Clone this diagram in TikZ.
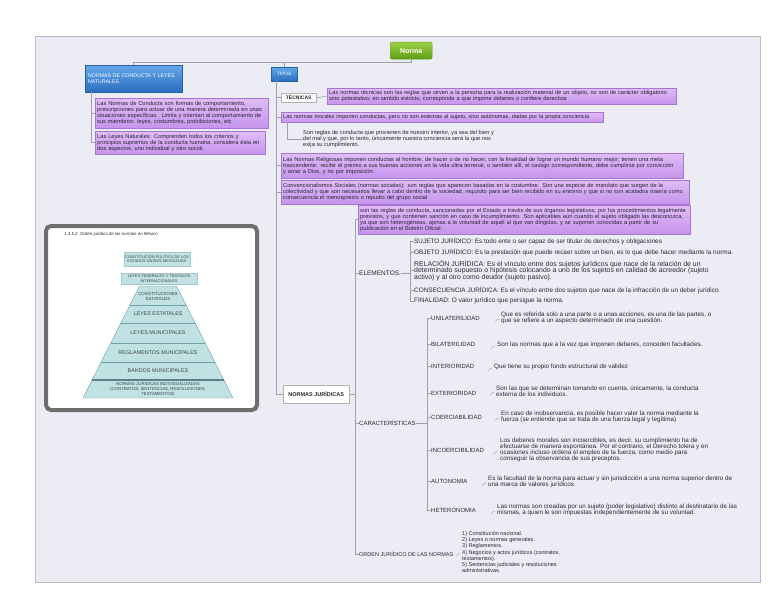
\documentclass[tikz,border=0pt]{standalone}
\usepackage{fontspec}
\setmainfont{Liberation Sans}
\usetikzlibrary{positioning, calc}
\definecolor{lienzo}{RGB}{236,237,244}
\definecolor{lienzoborde}{RGB}{185,186,196}
\definecolor{enlace}{RGB}{160,160,172}
\definecolor{lilaarriba}{RGB}{224,188,248}
\definecolor{lilaabajo}{RGB}{198,148,236}
\definecolor{lilaborde}{RGB}{168,118,210}
\definecolor{azularriba}{RGB}{100,168,232}
\definecolor{azulabajo}{RGB}{42,110,192}
\definecolor{azulborde}{RGB}{40,96,168}
\definecolor{verdearriba}{RGB}{158,208,72}
\definecolor{verdeabajo}{RGB}{94,158,20}
\definecolor{textoscuro}{RGB}{40,40,50}
\definecolor{pirafondo}{RGB}{192,226,226}
\definecolor{piralinea}{RGB}{112,160,166}
\definecolor{piratexto}{RGB}{60,70,80}
\definecolor{marco}{RGB}{110,110,112}

\newcommand{\fpeq}{\fontsize{5.7}{6}\selectfont}
\newcommand{\fdesc}{\fontsize{6.3}{6.2}\selectfont}
\newcommand{\fcar}{\fontsize{6}{6}\selectfont}

\begin{document}
\begin{tikzpicture}[x=1pt, y=-1pt,
  linea/.style={draw=enlace, line width=0.6pt},
  lila/.style={draw=lilaborde, top color=lilaarriba, bottom color=lilaabajo, line width=0.4pt,
    anchor=north west, align=left, inner xsep=2pt, inner ysep=1pt, font=\fpeq, text=textoscuro},
  azul/.style={draw=azulborde, top color=azularriba, bottom color=azulabajo, line width=0.4pt,
    anchor=north west, align=left, inner xsep=3pt, inner ysep=1pt, text=white},
  raiz/.style={draw=verdeabajo, top color=verdearriba, bottom color=verdeabajo, rounded corners=2pt,
    anchor=north west, text=white, font=\fontsize{7}{8}\selectfont\bfseries},
  blanca/.style={draw=gray!60, fill=white, anchor=north west, text=textoscuro,
    font=\fontsize{5}{6}\selectfont\bfseries},
  texto/.style={anchor=west, align=left, inner sep=0pt, text=textoscuro},
  nombre/.style={texto, font=\fcar},
  desc/.style={texto, font=\fdesc},
  nivel/.style={align=center, inner sep=0pt, text=piratexto},
  cajanivel/.style={nivel, fill=pirafondo, draw=piralinea!60, line width=0.3pt,
    font=\fontsize{3.9}{4.4}\selectfont},
]
\useasboundingbox (0,0) rectangle (768,594);
\fill[lienzo] (35,36) rectangle (760,582);
\draw[lienzoborde, line width=0.6pt] (35,36) rectangle (760,582);

% raiz y ramas principales
\node[raiz, minimum width=42pt, minimum height=17pt] (norma) at (390,42) {Norma};
\node[azul, text width=91pt, minimum height=27pt, font=\fontsize{5.2}{6.4}\selectfont] (leyes) at (85,65)
  {NORMAS DE CONDUCTA Y LEYES\\NATURALES};
\node[azul, minimum width=26pt, minimum height=14pt, inner xsep=1pt, font=\fontsize{4.8}{5}\selectfont] (tipos) at (271,67) {TIPOS};
\draw[linea] (norma.south) -- ++(0,3) -| (leyes.north);
\draw[linea] (norma.south) -- ++(0,3) -| (tipos.north);

% normas de conducta y leyes naturales
\node[lila, text width=169pt, minimum height=30pt] (ncond) at (95,98)
  {Las Normas de Conducta son formas de comportamiento,\\
   prescripciones para actuar de una manera determinada en unas\\
   situaciones específicas.\ \ Limita y orientan al comportamiento de\\
   sus miembros: leyes, costumbres, prohibiciones, etc};
\node[lila, text width=166pt, minimum height=23pt] (nnat) at (95,131)
  {Las Leyes Naturales: Comprenden todos los criterios y\\
   principios supremos de la conducta humana, considera ésta en\\
   dos aspectos, uno individual y otro social.};
\draw[linea] ($(leyes.south west)+(6,0)$) |- (ncond.west);
\draw[linea] ($(leyes.south west)+(6,0)$) |- (nnat.west);

% tipos
\node[blanca, minimum width=35pt, minimum height=9pt, inner sep=1pt] (tecnicas) at (281,93) {TÉCNICAS};
\node[lila, text width=345pt, minimum height=16pt] (tecdesc) at (327,88)
  {Las normas técnicas son las reglas que sirven a la persona para la realización material de un objeto, no son de carácter obligatorio\\
   sino potestativo; en sentido estricto, corresponde a que impone deberes o confiere derechos};
\node[lila, text width=318pt, minimum height=10pt, font=\fontsize{5.6}{6}\selectfont] (morales) at (281,112)
  {Las normas morales imponen conductas, pero no son externas al sujeto, sino autónomas, dadas por la propia conciencia};
\node[texto, font=\fontsize{5.7}{6.3}\selectfont] (moralsub) at (303,139)
  {Son reglas de conducta que provienen de nuestro interior, ya sea del bien y\\
   del mal y que, por lo tanto, únicamente nuestra conciencia será la que nos\\
   exija su cumplimiento.};
\node[lila, text width=398pt, minimum height=25pt] (religiosas) at (281,153)
  {Las Normas Religiosas imponen conductas al hombre, de hacer o de no hacer, con la finalidad de lograr un mundo humano mejor; tienen una meta\\
   trascendente: recibir el premio a sus buenas acciones en la vida ultra terrenal, o también allí, el castigo correspondiente, debe cumplirse por convicción\\
   y amar a Dios, y no por imposición.};
\node[lila, text width=404pt, minimum height=24pt] (convenc) at (281,180)
  {Convencionalismos Sociales (normas sociales): son reglas que aparecen basadas en la costumbre. Son una especie de mandato que surgen de la\\
   colectividad y que son necesarios llevar a cabo dentro de la sociedad, requisito para ser bien recibido en su entorno y que si no son acatados traería como\\
   consecuencia el menosprecio o repudio del grupo social};
\node[blanca, minimum width=66pt, minimum height=18pt, inner sep=1pt, font=\fontsize{5.5}{6}\selectfont\bfseries] (juridicas) at (283,385) {NORMAS JURÍDICAS};
\coordinate (tronco) at ($(tipos.south west)+(5,0)$);
\draw[linea] (tronco) |- (tecnicas.west);
\draw[linea] (tronco) |- (morales.west);
\draw[linea] (tronco) |- (religiosas.west);
\draw[linea] (tronco) |- (convenc.west);
\draw[linea] (tronco) |- (juridicas.west);
\draw[linea] (tecnicas.east) to[out=0, in=180] (tecdesc.west);
\draw[linea] ($(morales.south west)+(6,0)$) |- (moralsub.west);

% normas juridicas
\node[lila, text width=328pt, minimum height=29pt] (defjur) at (358,205)
  {son las reglas de conducta, sancionadas por el Estado a través de sus órganos legislativos, por los procedimientos legalmente\\
   previstos, y que contienen sanción en caso de incumplimiento. Son aplicables aún cuando el sujeto obligado las desconozca,\\
   ya que son heterogéneas, ajenas a la voluntad de aquél al que van dirigidas, y se suponen conocidas a partir de su\\
   publicación en el Boletín Oficial.};
\node[nombre, font=\fontsize{6.5}{7}\selectfont] (elementos) at (359,273) {ELEMENTOS.};
\node[nombre] (caract) at (359,423) {CARACTERÍSTICAS};
\node[nombre, font=\fontsize{5.5}{6}\selectfont] (orden) at (359,554) {ORDEN JURÍDICO DE LAS NORMAS};
\coordinate (tj) at ($(juridicas.east)+(6,0)$);
\draw[linea] (juridicas.east) -- (tj);
\draw[linea] (tj) |- (defjur.west);
\draw[linea] (tj) |- (elementos.west);
\draw[linea] (tj) |- (caract.west);
\draw[linea] (tj) |- (orden.west);

% elementos
\node[texto, font=\fontsize{6.4}{7}\selectfont] (sujeto) at (414,241)
  {SUJETO JURÍDICO: Es todo ente o ser capaz de ser titular de derechos y obligaciones};
\node[texto, font=\fontsize{6.4}{7}\selectfont] (objeto) at (414,252)
  {OBJETO JURÍDICO: Es la prestación que puede recaer sobre un bien, es lo que debe hacer mediante la norma.};
\node[texto, font=\fontsize{6.9}{6.6}\selectfont] (relacion) at (414,270.5)
  {RELACIÓN JURÍDICA: Es el vínculo entre dos sujetos jurídicos que nace de la relación de un\\
   determinado supuesto o hipótesis colocando a uno de los sujetos en calidad de acreedor (sujeto\\
   activo) y al otro como deudor (sujeto pasivo).};
\node[texto, font=\fontsize{6.4}{7}\selectfont] (consec) at (414,290)
  {CONSECUENCIA JURÍDICA: Es el vínculo entre dos sujetos que nace de la infracción de un deber jurídico};
\node[texto, font=\fontsize{6.5}{7}\selectfont] (finalidad) at (414,301) {FINALIDAD: O valor jurídico que persigue la norma.};
\coordinate (te) at (410,273);
\draw[linea] (elementos.east) -- (te);
\foreach \e in {sujeto, objeto, relacion, consec, finalidad}
  \draw[linea] (te) |- (\e.west);

% caracteristicas
\node[nombre] (uni) at (431,318) {UNILATERILIDAD};
\node[nombre] (bil) at (431,344) {BILATERILIDAD};
\node[nombre] (inte) at (431,366) {INTERIORIDAD};
\node[nombre] (exte) at (431,393) {EXTERIORIDAD};
\node[nombre] (coer) at (431,417) {COERCIABILIDAD};
\node[nombre] (inco) at (431,450) {INCOERCIBILIDAD};
\node[nombre] (auto) at (431,481) {AUTONOMIA};
\node[nombre] (hete) at (431,510) {HETERÓNOMIA};
\coordinate (tc) at (427,423);
\draw[linea] (caract.east) -- (tc);
\foreach \c in {uni, bil, inte, exte, coer, inco, auto, hete}
  \draw[linea] (tc) |- (\c.west);

\node[desc] (unid) at (501,318)
  {Que es referida solo a una parte o a unas acciones, es una de las partes, o\\
   que se refiere a un aspecto determinado de una cuestión.};
\node[desc] (bild) at (497,345) {Son las normas que a la vez que imponen deberes, conceden facultades.};
\node[desc] (inted) at (494,367) {Que tiene su propio fondo estructural de validez};
\node[desc] (exted) at (496,391)
  {Son las que se determinan tomando en cuenta, únicamente, la conducta\\
   externa de los individuos.};
\node[desc] (coerd) at (501,417)
  {En caso de inobservancia, es posible hacer valer la norma mediante la\\
   fuerza (se entiende que se trata de una fuerza legal y legítima)};
\node[desc] (incod) at (500,450)
  {Los deberes morales son incoercibles, es decir, su cumplimiento ha de\\
   efectuarse de manera espontánea. Por el contrario, el Derecho tolera y en\\
   ocasiones incluso ordena el empleo de la fuerza, como medio para\\
   conseguir la observancia de sus preceptos.};
\node[desc] (autod) at (488,482)
  {Es la facultad de la norma para actuar y sin jurisdicción a una norma superior dentro de\\
   una marca de valores jurídicos};
\node[desc] (heted) at (497,510)
  {Las normas son creadas por un sujeto (poder legislativo) distinto al destinatario de las\\
   mismas, a quien le son impuestas independientemente de su voluntad.};
\node[texto, font=\fontsize{5.5}{6.3}\selectfont] (lista) at (462,552)
  {1) Constitución nacional.\\
   2) Leyes o normas generales.\\
   3) Reglamentos.\\
   4) Negocios y actos jurídicos (contratos,\\
   testamentos).\\
   5) Sentencias judiciales y resoluciones\\
   administrativas.};
\foreach \d in {unid, bild, inted, exted, coerd, incod, autod, heted, lista}
  \draw[linea, line width=0.4pt] ([shift={(-6pt,-4pt)}]\d.west) to[bend left=25] ([shift={(-2pt,-1pt)}]\d.west);

% piramide del orden juridico
\draw[marco, line width=4pt, rounded corners=5pt, fill=white] (46,226) rectangle (257,410);
\node[texto, font=\fontsize{4.4}{5}\selectfont\itshape] (titulo) at (64,234)
  {1.3.5.2\ \ Orden jurídico de las normas en México};
\node[cajanivel, minimum width=66pt, minimum height=14pt] (n1) at (157,259)
  {CONSTITUCIÓN POLÍTICA DE LOS\\ESTADOS UNIDOS MEXICANOS};
\node[cajanivel, minimum width=76pt, minimum height=11pt] (n2) at (159,278.5)
  {LEYES FEDERALES Y TRATADOS\\INTERNACIONALES};
\filldraw[fill=pirafondo, draw=piralinea, line width=0.4pt]
  (139.5,286) -- (176.5,286) -- (233,398) -- (83,398) -- cycle;
\draw[piralinea, line width=0.5pt] (129.9,305) -- (186.1,305);
\draw[piralinea, line width=0.5pt] (120.8,323) -- (195.2,323);
\draw[piralinea, line width=0.5pt] (110.7,343) -- (205.3,343);
\draw[piralinea, line width=0.5pt] (101.2,362) -- (214.8,362);
\draw[piralinea!80!black, line width=1.2pt] (92.1,380) -- (223.9,380);
\node[nivel, font=\fontsize{4.4}{5}\selectfont] (n3) at (158,296) {CONSTITUCIONES\\ESTATALES};
\node[nivel, font=\fontsize{5.4}{6}\selectfont] (n4) at (158,314) {LEYES ESTATALES};
\node[nivel, font=\fontsize{5.4}{6}\selectfont] (n5) at (158,333) {LEYES MUNICIPALES};
\node[nivel, font=\fontsize{5.4}{6}\selectfont] (n6) at (158,352.5) {REGLAMENTOS MUNICIPALES};
\node[nivel, font=\fontsize{5.4}{6}\selectfont] (n7) at (158,371) {BANDOS MUNICIPALES};
\node[nivel, font=\fontsize{4.3}{4.9}\selectfont] (n8) at (158,389)
  {NORMAS JURÍDICAS INDIVIDUALIZADAS\\(CONTRATOS, SENTENCIAS, RESOLUCIONES,\\TESTAMENTOS)};
\end{tikzpicture}
\end{document}
